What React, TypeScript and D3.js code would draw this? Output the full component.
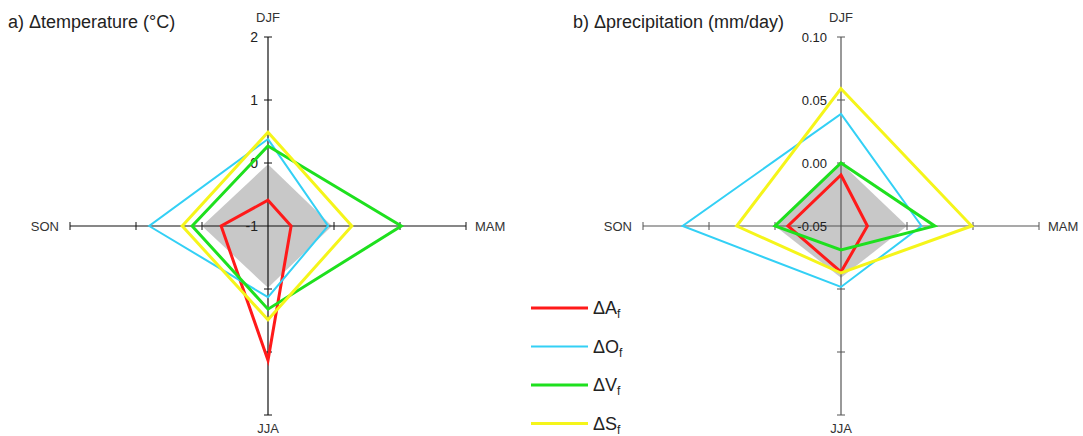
import React from "react";
import * as d3 from "d3";

const seasons = ["DJF", "MAM", "JJA", "SON"];
const seriesNames = ["A", "O", "V", "S"];
const seriesColors = ["#ff1a1a", "#33d0f5", "#1ee01e", "#f5f51a"];
const seriesWidths = [3, 2, 3, 3];

// temperature (°C), order DJF, MAM, JJA, SON
const tempRef = [-0.02, -0.03, -0.02, 0.0];
const tempA = [-0.59, -0.65, 1.13, -0.29];
const tempO = [0.38, -0.09, 0.13, 0.8];
const tempV = [0.27, 1.02, 0.32, 0.15];
const tempS = [0.49, 0.27, 0.49, 0.3];
const tempTicks = [2, 1, 0, -1];
const tempTickLabels = ["2", "1", "0", "-1"];

// precipitation (mm/day)
const precRef = [0.0, 0.0, -0.009, 0.0];
const precA = [-0.0095, -0.03, -0.0135, -0.0098];
const precO = [0.039, 0.011, -0.0016, 0.07];
const precV = [0.0, 0.021, -0.031, 0.0];
const precS = [0.059, 0.049, -0.0127, 0.029];
const precTicks = [0.1, 0.05, 0.0, -0.05];
const precTickLabels = ["0.10", "0.05", "0.00", "-0.05"];

const FONT = "'Liberation Sans', Arial, sans-serif";

type PanelProps = {
  cx: number;
  cy: number;
  min: number;
  max: number;
  refVals: number[];
  series: number[][];
  ticks: number[];
  tickLabels: string[];
  title: string;
  titleX: number;
  axisColor: string;
  tickFont: number;
  tickOffset: number;
};

function Panel(p: PanelProps) {
  const rx = d3.scaleLinear().domain([p.min, p.max]).range([0, 198]);
  const ry = d3.scaleLinear().domain([p.min, p.max]).range([0, 189]);
  const dirs = [
    [0, -1],
    [1, 0],
    [0, 1],
    [-1, 0],
  ];
  const pt = (v: number, i: number): [number, number] => {
    const [dx, dy] = dirs[i];
    return [p.cx + dx * rx(v), p.cy + dy * ry(v)];
  };
  const line = d3.line<[number, number]>().curve(d3.curveLinearClosed);
  const poly = (vals: number[]) => line(vals.map((v, i) => pt(v, i))) || "";
  const tickVals = d3.range(p.min, p.max + 1e-9, (p.max - p.min) / 3).slice(1);
  return (
    <g>
      <path d={poly(p.refVals)} fill="#c8c8c8" stroke="none" />
      <line x1={p.cx} x2={p.cx} y1={p.cy - ry(p.max)} y2={p.cy + ry(p.max)} stroke={p.axisColor} strokeWidth={1.2} />
      <line x1={p.cx - rx(p.max)} x2={p.cx + rx(p.max)} y1={p.cy} y2={p.cy} stroke={p.axisColor} strokeWidth={1.2} />
      {tickVals.map((v, k) => (
        <g key={k}>
          <line x1={p.cx - 4} x2={p.cx + 4} y1={p.cy - ry(v)} y2={p.cy - ry(v)} stroke={p.axisColor} />
          <line x1={p.cx - 4} x2={p.cx + 4} y1={p.cy + ry(v)} y2={p.cy + ry(v)} stroke={p.axisColor} />
          <line x1={p.cx - rx(v)} x2={p.cx - rx(v)} y1={p.cy - 4} y2={p.cy + 4} stroke={p.axisColor} />
          <line x1={p.cx + rx(v)} x2={p.cx + rx(v)} y1={p.cy - 4} y2={p.cy + 4} stroke={p.axisColor} />
        </g>
      ))}
      {p.ticks.map((v, k) => (
        <text key={k} x={p.cx - p.tickOffset} y={p.cy - ry(v)} dy="0.35em" textAnchor="end" fontSize={p.tickFont} fill="#222" fontFamily={FONT}>
          {p.tickLabels[k]}
        </text>
      ))}
      {p.series.map((vals, k) => (
        <path key={k} d={poly(vals)} fill="none" stroke={seriesColors[k]} strokeWidth={seriesWidths[k]} strokeLinejoin="miter" />
      ))}
      <text x={p.cx} y={p.cy - 204} textAnchor="middle" fontSize={13} fill="#333" fontFamily={FONT}>{seasons[0]}</text>
      <text x={p.cx + rx(p.max) + 9} y={p.cy} dy="0.35em" textAnchor="start" fontSize={13} fill="#333" fontFamily={FONT}>{seasons[1]}</text>
      <text x={p.cx} y={p.cy + 207} textAnchor="middle" fontSize={13} fill="#333" fontFamily={FONT}>{seasons[2]}</text>
      <text x={p.cx - rx(p.max) - 11} y={p.cy} dy="0.35em" textAnchor="end" fontSize={13} fill="#333" fontFamily={FONT}>{seasons[3]}</text>
      <text x={p.titleX} y={28} fontSize={18} fill="#222" fontFamily={FONT}>{p.title}</text>
    </g>
  );
}

export default function App() {
  return (
    <svg width={1083} height={436} style={{ position: "absolute", left: 0, top: 0, background: "#fff" }}>
      <Panel
        cx={268}
        cy={226}
        min={-1}
        max={2}
        refVals={tempRef}
        series={[tempA, tempO, tempV, tempS]}
        ticks={tempTicks}
        tickLabels={tempTickLabels}
        title="a) Δtemperature (°C)"
        titleX={8}
        axisColor="#111"
        tickFont={14}
        tickOffset={10}
      />
      <Panel
        cx={841}
        cy={226}
        min={-0.05}
        max={0.1}
        refVals={precRef}
        series={[precA, precO, precV, precS]}
        ticks={precTicks}
        tickLabels={precTickLabels}
        title="b) Δprecipitation (mm/day)"
        titleX={573}
        axisColor="#555"
        tickFont={13}
        tickOffset={14}
      />
      {seriesNames.map((n, k) => (
        <g key={n} transform={`translate(531, ${308 + k * 38.5})`}>
          <line x1={0} x2={57} y1={0} y2={0} stroke={seriesColors[k]} strokeWidth={seriesWidths[k]} />
          <text x={62} y={0} dy="0.35em" fontSize={18} fill="#222" fontFamily={FONT}>
            Δ{n}
            <tspan fontSize={12} dy="4">f</tspan>
          </text>
        </g>
      ))}
    </svg>
  );
}
